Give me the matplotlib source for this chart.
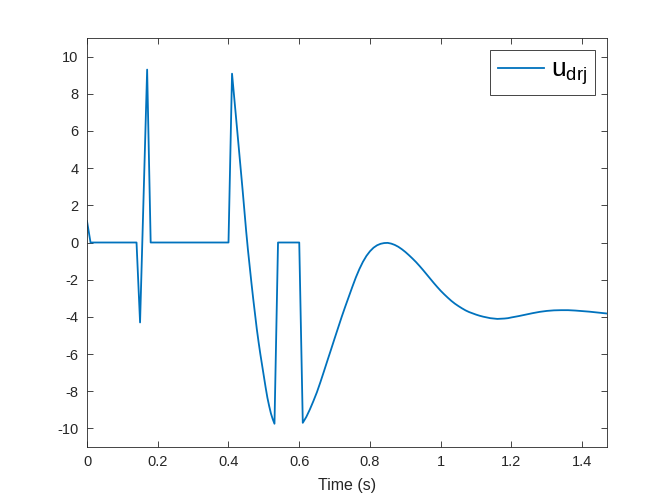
import matplotlib
matplotlib.use("Agg")
import matplotlib.pyplot as plt
from matplotlib.ticker import FuncFormatter

plt.rcParams['font.family'] = ['Liberation Sans', 'DejaVu Sans']
plt.rcParams['mathtext.fontset'] = 'custom'
plt.rcParams['mathtext.rm'] = 'Liberation Sans'
plt.rcParams['mathtext.it'] = 'Liberation Sans'

# piecewise / impulse part
time_a = [0.00, 0.01, 0.14, 0.15, 0.17, 0.18, 0.40, 0.41, 0.42, 0.43, 0.44, 0.45,
          0.455, 0.46, 0.465, 0.47, 0.475, 0.48, 0.485, 0.49, 0.495, 0.50, 0.505,
          0.51, 0.515, 0.52, 0.525, 0.53, 0.54, 0.60]
u_a = [1.15, 0.0, 0.0, -4.3, 9.3, 0.0, 0.0, 9.08, 7.0, 4.9, 2.8, 0.6,
       -0.4, -1.3, -2.2, -3.05, -3.85, -4.65, -5.35, -6.0, -6.6, -7.2, -7.8,
       -8.35, -8.8, -9.2, -9.5, -9.75, 0.0, 0.0]
# oscillating tail
time_b = [0.61, 0.62, 0.63, 0.64, 0.65, 0.66, 0.67, 0.68, 0.69, 0.70, 0.71, 0.72,
          0.73, 0.74, 0.75, 0.76, 0.77, 0.78, 0.79, 0.80, 0.81, 0.82, 0.83, 0.84,
          0.85, 0.86, 0.87, 0.88, 0.89, 0.90, 0.91, 0.92, 0.93, 0.94, 0.95, 0.96,
          0.97, 0.98, 0.99, 1.00, 1.01, 1.02, 1.03, 1.04, 1.05, 1.06, 1.07, 1.08,
          1.09, 1.10, 1.11, 1.12, 1.13, 1.14, 1.15, 1.16, 1.17, 1.18, 1.19, 1.20,
          1.22, 1.24, 1.26, 1.28, 1.30, 1.32, 1.34, 1.36, 1.38, 1.40, 1.42, 1.44,
          1.46, 1.47]
u_b = [-9.7, -9.38, -8.98, -8.53, -8.05, -7.5, -6.92, -6.33, -5.75, -5.16, -4.58, -4.0,
       -3.45, -2.92, -2.39, -1.88, -1.43, -1.04, -0.72, -0.47, -0.28, -0.15, -0.07, -0.03,
       -0.02, -0.06, -0.13, -0.23, -0.36, -0.51, -0.68, -0.86, -1.05, -1.26, -1.48, -1.71,
       -1.94, -2.17, -2.39, -2.6, -2.79, -2.97, -3.14, -3.29, -3.42, -3.54, -3.65, -3.74,
       -3.81, -3.88, -3.94, -3.99, -4.03, -4.07, -4.09, -4.11, -4.1, -4.09, -4.07, -4.03,
       -3.96, -3.88, -3.8, -3.73, -3.68, -3.65, -3.64, -3.64, -3.66, -3.69, -3.72, -3.76,
       -3.8, -3.82]
time_s = time_a + time_b
u_drj = u_a + u_b

x_ticks = [0, 0.2, 0.4, 0.6, 0.8, 1.0, 1.2, 1.4]
y_ticks = [-10, -8, -6, -4, -2, 0, 2, 4, 6, 8, 10]
x_label = "Time (s)"
legend_label = r"$\mathregular{u_{drj}}$"

fig = plt.figure(figsize=(6.71, 5.03), dpi=100)
ax = fig.add_axes([87/671, 56/503, 520/671, 409/503])
ax.plot(time_s, u_drj, color='#0072BD', linewidth=1.3, label=legend_label)
ax.set_xlim(0, 1.47)
ax.set_ylim(-11, 11)
ax.set_xticks(x_ticks)
ax.set_yticks(y_ticks)
ax.xaxis.set_major_formatter(FuncFormatter(lambda v, p: f"{v:g}"))
ax.yaxis.set_major_formatter(FuncFormatter(lambda v, p: f"{v:g}"))
ax.tick_params(direction='in', length=4, width=0.6, colors='#262626', labelsize=10.5,
               top=True, right=True, pad=6)
for s in ax.spines.values():
    s.set_color('#262626')
    s.set_linewidth(0.6)
ax.set_xlabel(x_label, fontsize=11.5, color='#262626', labelpad=6)
leg = ax.legend(loc='upper right', fontsize=19, frameon=True, fancybox=False,
                edgecolor='#262626', framealpha=1, handlelength=1.75,
                borderaxespad=0.45, borderpad=0.3, handletextpad=0.25)
leg.get_frame().set_linewidth(0.6)
fig.savefig('out.png', dpi=100)
